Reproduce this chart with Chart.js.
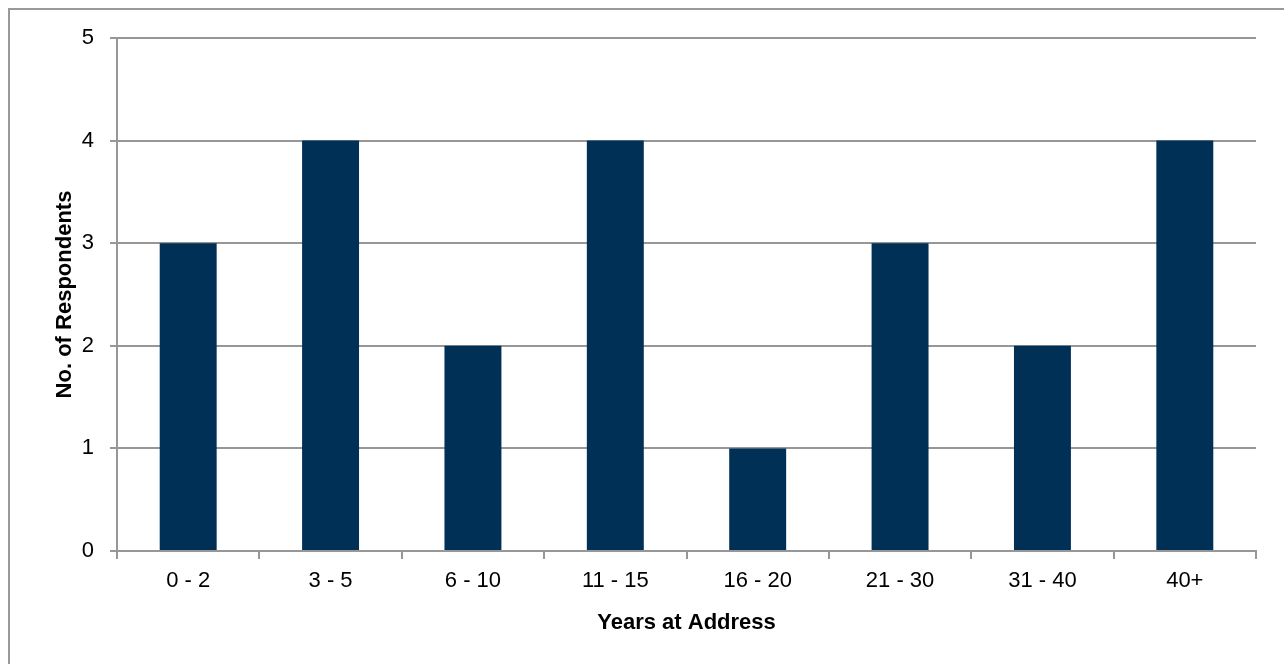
<!DOCTYPE html>
<html>
<head>
<meta charset="utf-8">
<title>Years at Address</title>
<script src="https://cdn.jsdelivr.net/npm/chart.js@4"></script>
<style>
  html, body { margin: 0; padding: 0; background: #fff; overflow: hidden; }
  #frame {
    position: absolute; left: 8px; top: 8px; width: 1300px; height: 700px;
    border-left: 2px solid #999; border-top: 2px solid #999;
  }
  #wrap { position: absolute; left: 0; top: 0; width: 1284px; height: 664px; }
</style>
</head>
<body>
<div id="frame"></div>
<div id="wrap"><canvas id="yearsChart"></canvas></div>
<script>
  // Respondents grouped by years at their current address
  const categories = ['0 - 2', '3 - 5', '6 - 10', '11 - 15', '16 - 20', '21 - 30', '31 - 40', '40+'];
  const respondents = [3, 4, 2, 4, 1, 3, 2, 4];
  const yTicks = [0, 1, 2, 3, 4, 5];

  const gridColor = '#979797';
  const fontFamily = "'Liberation Sans', Arial, sans-serif";

  const ctx = document.getElementById('yearsChart').getContext('2d');
  new Chart(ctx, {
    type: 'bar',
    data: {
      labels: categories,
      datasets: [{
        label: 'No. of Respondents',
        data: respondents,
        backgroundColor: '#003056',
        borderWidth: 0,
        barPercentage: 0.4,
        categoryPercentage: 1.0
      }]
    },
    options: {
      responsive: true,
      maintainAspectRatio: false,
      animation: false,
      layout: {
        padding: { top: 38, right: 28, bottom: 0, left: 0 }
      },
      scales: {
        x: {
          afterFit: function(scale) { scale.height = 113; },
          grid: {
            offset: true,
            drawOnChartArea: false,
            drawTicks: true,
            tickLength: 8,
            color: gridColor,
            lineWidth: 2
          },
          border: { display: true, color: gridColor, width: 2 },
          ticks: {
            color: '#000',
            padding: 9,
            maxRotation: 0,
            font: { family: fontFamily, size: 22 }
          },
          title: {
            display: true,
            text: 'Years at Address',
            color: '#000',
            padding: { top: 2, bottom: 28 },
            font: { family: fontFamily, size: 22, weight: 'bold' }
          }
        },
        y: {
          min: 0,
          max: 5,
          afterFit: function(scale) { scale.width = 117; },
          afterBuildTicks: function(scale) {
            scale.ticks = yTicks.map(v => ({ value: v }));
          },
          grid: {
            drawOnChartArea: true,
            drawTicks: true,
            tickLength: 7,
            color: gridColor,
            lineWidth: 2
          },
          border: { display: true, color: gridColor, width: 2 },
          ticks: {
            color: '#000',
            padding: 16,
            font: { family: fontFamily, size: 22 }
          },
          title: {
            display: true,
            text: 'No. of Respondents',
            color: '#000',
            padding: { top: 52, bottom: 0 },
            font: { family: fontFamily, size: 22, weight: 'bold' }
          }
        }
      },
      plugins: {
        legend: { display: false },
        tooltip: { enabled: false }
      }
    }
  });
</script>
</body>
</html>
